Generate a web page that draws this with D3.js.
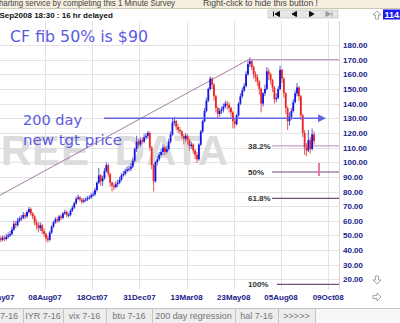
<!DOCTYPE html>
<html><head><meta charset="utf-8">
<script src="https://cdn.jsdelivr.net/npm/d3@7"></script>
<style>
html,body{margin:0;padding:0;background:#fff;overflow:hidden}
svg{display:block;font-family:"Liberation Sans",Arial,sans-serif}
</style></head><body>
<svg id="c" width="400" height="323"></svg>
<script>
// ---------- DATA ----------
const xLabels = ["29May07","08Aug07","18Oct07","31Dec07","13Mar08","23May08","05Aug08","09Oct08"];
const barsPerLabel = 50;          // one date label every 50 trading days
const yTicks = [20,30,40,50,60,70,80,90,100,110,120,130,140,150,160,170,180];
const firstOpen = 47;
const closeVals = [
48,47,48.5,47.5,49,50,51,54,58,57,
60,61.5,62,64,63,66,68,65,63,59,
57,55,57,53,51,48,47,52,56,59,
61,60,63,62,65,66,64,64,67,69,
72,75,76,74.5,73,74,74.5,75.5,76,77.5,
78,81,86,91,87,89,94,98,92,86,
84,83,85,86,88,91,92,94,95,95.5,
97,101,109,114,112,115,114,117,118,120,
110,98,87,100,102,105,107,110,107,109,
114,119,127,128,124,122,121,118,116,118,
115,111,112,108,105,102,112,121,128,135,
142,150,157,153,145,137,133,135,136,138,
140,139,137,134,128,126,132,140,145,149,
152,160,167,169,165,160,158,155,150,140,
147,150,162,160,156,151,143,144,150,163,
157,147,137,128,131,135,141,147,151,145,
132,120,110,108,115,109,119,114.5];
const highVals = [
50,49.5,50,50,51,52,53,56,60,60,
62,63,64,66,65.5,67,69.5,69,66,64,
61,59,59,58,55,52,50,53,57,60,
62.5,62.5,64,64.5,66,67.5,67,65.5,68,70.5,
73,76.5,78,77,75.5,75.5,76,77,77.5,79,
80,82.5,87,96,92,91,96,100,99,93,
87,86,87,88,90,92.5,94,95.5,97,97.5,
99.5,103,110,118,116,117,117,119,120,121.5,
121,111,99,101,104,107,109,112,111,111,
116,121,130,131,129,126,124,122,119,120,
119,116,114,113,109,107,113,122,129,137,
144,151,158.5,158,154,146,138,137,138,140,
142,142,141,138,135,130,133,141,147,151,
154,162,169,171.5,170,166,162,160,156,151,
148,153,165,164,161,157,152,147,152,166,
164,158,148,138,134,137,143,149,154,152,
146,133,122,113,122,117,123,121];
const lowVals = [
46,45.5,46,46,46.5,48,49,50,53,55,
56,59,60,61,61,62,65,63.5,61,57,
54,52,53,51,49,46,45,46,51,55,
58,58.5,59,60.5,61,64,62.5,62,63,66,
68,71,74,73,71.5,72,73,73.5,74.5,75,
76.5,77,80,85,84,84,88,93,90,83,
80,81,82,83,85,87,90,91,93,93.5,
94,96,100,107,110,110.5,112,113,115.5,116,
108,95,80,86,98,101,104,105,105,106,
108,113,118,125,122,120,119,116,112,114,
112,108,109,106,102,99.5,101,111,120,127,
134,141,149,150,142,134,130,131,133,134,
137,136,134,131,123,123,125,131,139,144,
148,151,159,165,163,157,155,152,146,134,
138,145,149,156,153,148,140,141,143,149,
154,144,133,122,125,129,134,140,145,142,
129,117,105,104,107,106,108,112];
const fibLabels = ["", "38.2%", "50%", "61.8%", "100%"];
const fibValues = [170, 111.2, 93.3, 75.3, 16.6];
const trendValues = [77, 170.5];      // 200-day regression line, start & end
const arrowValue = 130;               // "200 day new tgt price"
const markerValues = [90.5, 99.5];    // pink target mark
const tabLabels = ["7-16","IYR 7-16","vix 7-16","btu 7-16","200 day regression","hal 7-16",">>>>>"];
const lastPrice = "114.5";

// ---------- LAYOUT ----------
const W = 400, H = 323;
const plot = {left: 0, right: 339, top: 21, bottom: 290};
const svg = d3.select("#c");
const nSlots = (xLabels.length - 1) * barsPerLabel;
const x = d3.scaleLinear().domain([0, nSlots]).range([-2.2, 328.2]);
const y = d3.scaleLinear().domain([20, 180]).range([279.4, 45]);
const barSlot = i => 1 + 2 * i;   // bars every two trading days

// top banner
svg.append("rect").attr("x",0).attr("y",0).attr("width",W).attr("height",8).attr("fill","#f6efe0");
svg.append("line").attr("x1",0).attr("x2",W).attr("y1",8.5).attr("y2",8.5).attr("stroke","#cfc6b4");
svg.append("text").attr("x",-5).attr("y",5.5).attr("font-size",9).attr("fill","#444")
  .attr("textLength",180).attr("lengthAdjust","spacingAndGlyphs")
  .text("charting service by completing this 1 Minute Survey");
svg.append("text").attr("x",203).attr("y",5.5).attr("font-size",9).attr("fill","#444")
  .attr("textLength",115).attr("lengthAdjust","spacingAndGlyphs")
  .text("Right-click to hide this button !");

// header
svg.append("text").attr("x",-5).attr("y",17.5).attr("font-size",8).attr("font-weight","bold").attr("fill","#111")
  .text("4Sep2008 18:30 : 16 hr delayed");

// nav buttons
const nav = svg.append("g").attr("transform","translate(268,10)");
nav.append("rect").attr("width",70).attr("height",8).attr("fill","#e6e6e6").attr("stroke","#bdbdbd").attr("stroke-width",0.6);
const glyphs = [
  {p:"M5.5,1.5v5 M11.5,1.5 L7,4 L11.5,6.5Z", c:"#111"},
  {p:"M11,1.5 L6.5,4 L11,6.5Z", c:"#111"},
  {p:"M6.5,1.5 L11,4 L6.5,6.5Z", c:"#111"},
  {p:"M5.5,1.5 L10,4 L5.5,6.5Z M11.5,1.5v5", c:"#999"}
];
glyphs.forEach((g,k)=>{
  nav.append("path").attr("transform",`translate(${k*17.5},0)`).attr("d",g.p)
    .attr("fill",g.c).attr("stroke",g.c).attr("stroke-width",1);
});

// outline block arrows + last price box
const arrowShape = "M0,-4 L4,0 L1.6,0 L1.6,4 L-1.6,4 L-1.6,0 L-4,0 Z";
[["translate(377,15)"],["translate(377,280) rotate(180)"],["translate(377,297) rotate(90)"]].forEach(t=>{
  svg.append("path").attr("d",arrowShape).attr("transform",t[0])
    .attr("fill","#fff").attr("stroke","#9a9a9a").attr("stroke-width",0.9);
});
svg.append("rect").attr("x",383).attr("y",9.5).attr("width",20).attr("height",10).attr("fill","#1c1ce8");
svg.append("text").attr("x",384.5).attr("y",18).attr("font-size",9).attr("font-weight","bold").attr("fill","#fff").text(lastPrice);

// clip for plot
svg.append("clipPath").attr("id","clip").append("rect")
  .attr("x",plot.left).attr("y",plot.top).attr("width",plot.right-plot.left).attr("height",plot.bottom-plot.top);

// grid
const grid = svg.append("g").attr("clip-path","url(#clip)");
grid.selectAll(".hg").data(yTicks).join("line")
  .attr("x1",plot.left).attr("x2",plot.right).attr("y1",d=>Math.round(y(d))+0.5).attr("y2",d=>Math.round(y(d))+0.5)
  .attr("stroke","#e3e3e3").attr("stroke-width",1);
grid.selectAll(".vg").data(xLabels).join("line")
  .attr("x1",(d,i)=>Math.round(x(i*barsPerLabel))+0.5).attr("x2",(d,i)=>Math.round(x(i*barsPerLabel))+0.5)
  .attr("y1",plot.top).attr("y2",plot.bottom).attr("stroke","#e3e3e3").attr("stroke-width",1);
svg.append("line").attr("x1",plot.right+0.5).attr("x2",plot.right+0.5).attr("y1",plot.top).attr("y2",plot.bottom)
  .attr("stroke","#d6d6d6");

// watermark
svg.append("text").attr("x",-26).attr("y",165).attr("font-size",42).attr("font-weight","bold")
  .attr("letter-spacing",1).attr("word-spacing",12).attr("fill","#dcdcdc").attr("clip-path","url(#clip)").text("FREE DATA");

// right axis labels
svg.append("g").selectAll("text").data(yTicks).join("text")
  .attr("x",343).attr("y",d=>y(d)+3).attr("font-size",8).attr("font-weight","bold").attr("fill","#20208a")
  .text(d=>d.toFixed(2));

// x axis labels
svg.append("g").selectAll("text").data(xLabels).join("text")
  .attr("x",(d,i)=>x(i*barsPerLabel)).attr("y",300).attr("text-anchor","middle")
  .attr("font-size",8).attr("font-weight","bold").attr("fill","#20208a").text(d=>d);

const plotG = svg.append("g").attr("clip-path","url(#clip)");

// trend line
plotG.append("line").attr("x1",x(barSlot(0))).attr("y1",y(trendValues[0]))
  .attr("x2",x(barSlot(133))).attr("y2",y(trendValues[1]))
  .attr("stroke","#8e5a8e").attr("stroke-width",0.8);

// fib lines
const fibStartX = [x(barSlot(133)), 272, 272, 272, 277];
const fibColors = ["#c896c8","#caa2ca","#7a4a7a","#7a4a7a","#7a4a7a"];
fibValues.forEach((v,i)=>{
  plotG.append("line").attr("x1",fibStartX[i]).attr("x2",plot.right)
    .attr("y1",y(v)).attr("y2",y(v)).attr("stroke",fibColors[i]).attr("stroke-width",1.2);
  if (fibLabels[i]) {
    svg.append("text").attr("x",248).attr("y",y(v)+3).attr("font-size",8).attr("font-weight","bold")
      .attr("fill","#333").text(fibLabels[i]);
  }
});

// bars
const bars = closeVals.map((c,i)=>({
  s: barSlot(i), o: i===0 ? firstOpen : closeVals[i-1], c, h: highVals[i], l: lowVals[i]
}));
const colOf = d => d.c < d.o ? "#ec2424" : "#1414e6";
plotG.selectAll(".wick").data(bars).join("line")
  .attr("x1",d=>x(d.s)).attr("x2",d=>x(d.s)).attr("y1",d=>y(d.h)).attr("y2",d=>y(d.l))
  .attr("stroke",d=>d.c < d.o ? "#e06a6a" : "#6a6ad6").attr("stroke-width",1.1);
plotG.selectAll(".body").data(bars).join("rect")
  .attr("x",d=>x(d.s)-0.9).attr("width",1.8)
  .attr("y",d=>y(Math.max(d.o,d.c))).attr("height",d=>Math.max(1,Math.abs(y(d.o)-y(d.c))))
  .attr("fill",colOf);

// 200 day arrow
svg.append("line").attr("x1",104).attr("x2",319).attr("y1",y(arrowValue)).attr("y2",y(arrowValue))
  .attr("stroke","#6464e2").attr("stroke-width",1.5);
svg.append("path").attr("d",`M318,${y(arrowValue)-4} L326,${y(arrowValue)} L318,${y(arrowValue)+4} Z`)
  .attr("fill","#6464e2");

// pink marker
svg.append("line").attr("x1",319).attr("x2",319).attr("y1",y(markerValues[1])).attr("y2",y(markerValues[0]))
  .attr("stroke","#e87094").attr("stroke-width",1.8);

// annotations
const annFont = '"DejaVu Sans", sans-serif';
svg.append("text").attr("x",10).attr("y",42).attr("font-family",annFont).attr("font-size",16)
  .attr("fill","#5a5ae0").attr("textLength",138).attr("lengthAdjust","spacingAndGlyphs").text("CF fib 50% is $90");
svg.append("text").attr("x",23).attr("y",125).attr("font-family",annFont).attr("font-size",14)
  .attr("fill","#5a5ae0").attr("textLength",59).attr("lengthAdjust","spacingAndGlyphs").text("200 day");
svg.append("text").attr("x",23).attr("y",145).attr("font-family",annFont).attr("font-size",14)
  .attr("fill","#5a5ae0").attr("textLength",99).attr("lengthAdjust","spacingAndGlyphs").text("new tgt price");

// tab bar
const tabs = svg.append("g");
tabs.append("rect").attr("x",0).attr("y",309).attr("width",W).attr("height",14).attr("fill","#f7f7f7");
tabs.append("rect").attr("x",0).attr("y",309).attr("width",315).attr("height",14).attr("fill","#ededed");
tabs.append("line").attr("x1",0).attr("x2",W).attr("y1",308.5).attr("y2",308.5).attr("stroke","#c4c4c4");
const sepX = [23,63,106,152,235,278,315];
sepX.forEach(sx=>tabs.append("line").attr("x1",sx+0.5).attr("x2",sx+0.5).attr("y1",309).attr("y2",323).attr("stroke","#c4c4c4"));
const tabCenters = sepX.map((sx,i)=> i===0 ? 9 : (sepX[i-1]+sx)/2);
tabLabels.forEach((t,i)=>{
  tabs.append("text").attr("x",tabCenters[i]).attr("y",318.5).attr("text-anchor","middle")
    .attr("font-size",9).attr("fill","#777").text(t);
});
</script>
</body></html>
